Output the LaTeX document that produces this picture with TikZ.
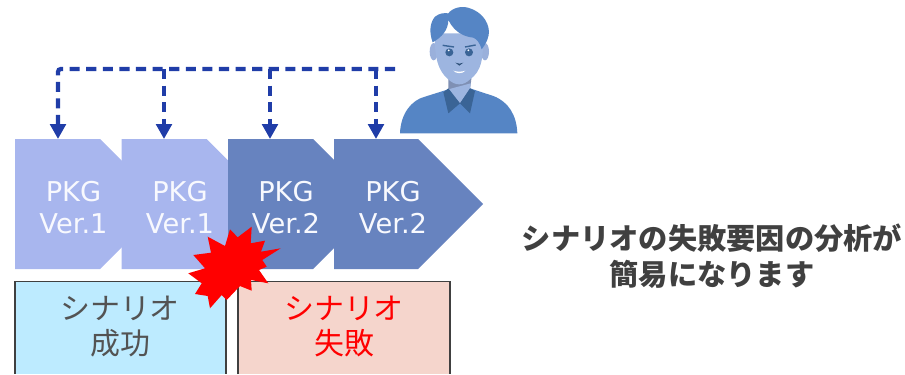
\documentclass[tikz,border=0pt]{standalone}
\usepackage{fontspec}
\setmainfont{DejaVu Sans}
\newfontfamily\jpfont{Noto Sans CJK JP}
\usetikzlibrary{arrows.meta,calc,positioning}
\definecolor{pkglight}{HTML}{A8B6EE}
\definecolor{pkgdark}{HTML}{6783BF}
\definecolor{dropblue}{HTML}{203DA8}
\definecolor{okfill}{HTML}{BDEBFF}
\definecolor{ngfill}{HTML}{F5D5CC}
\definecolor{boxline}{HTML}{404040}
\definecolor{manblue}{HTML}{5585C5}
\definecolor{manface}{HTML}{9DB5E0}
\definecolor{mancollar}{HTML}{3A6496}
\definecolor{manneck}{HTML}{7F90B4}
\begin{document}
\begin{tikzpicture} [x=0.025cm,y=-0.025cm,{pkgtext/.style={text=white!92!pkglight,align=center,inner sep=0pt,font=\fontsize{19.4}{22.7}\selectfont}},{droptip/.style={-{Triangle[length=10.6pt,width=11pt]},color=dropblue,line width=3pt,dash pattern=on 7.2pt off 4.6pt}},{resultbox/.style={draw=boxline,line width=1.3pt}},{resulttext/.style={align=center,inner sep=0pt,font=\jpfont\fontsize{21.3}{24.6}\selectfont}}]
	\useasboundingbox (0,0) rectangle (905,374);
	%%result boxes
	\draw [resultbox,fill=okfill] (15,374) -- (15,281.5) -- (226,281.5) -- (226,374);
	\draw [resultbox,fill=ngfill] (238,374) -- (238,281.5) -- (450,281.5) -- (450,374);
	\node [resulttext,text=boxline!90!white] (okText) at (120,326.5) {シナリオ\\成功};
	\node [resulttext,text=red] (ngText) at (344,326.5) {シナリオ\\失敗};
	%%packages
	\fill [pkglight] (15,139) -- (100,139) -- (165,204) -- (100,269) -- (15,269) -- cycle;
	\fill [pkglight] (121.5,139) -- (206.5,139) -- (271.5,204) -- (206.5,269) -- (121.5,269) -- cycle;
	\fill [pkgdark] (228,139) -- (313,139) -- (378,204) -- (313,269) -- (228,269) -- cycle;
	\fill [pkgdark] (334,139) -- (418,139) -- (483,204) -- (418,269) -- (334,269) -- cycle;
	\node [pkgtext] (pkgA) at (73.5,208) {PKG\\Ver.1};
	\node [pkgtext] (pkgB) at (180,208) {PKG\\Ver.1};
	\node [pkgtext] (pkgC) at (286,208) {PKG\\Ver.2};
	\node [pkgtext] (pkgD) at (393,208) {PKG\\Ver.2};
	%%dashed lines
	\coordinate (start) at (395,69);
	\coordinate (dropA) at (58,69);
	\coordinate (dropB) at (164,69);
	\coordinate (dropC) at (270,69);
	\coordinate (dropD) at (376,69);
	\coordinate (endA) at (58,139);
	\coordinate (endB) at (164,139);
	\coordinate (endC) at (270,139);
	\coordinate (endD) at (376,139);
	\draw [droptip,rounded corners=2pt] (start) -- (dropA) -- (endA);
	\draw [droptip] (dropB) -- (endB);
	\draw [droptip] (dropC) -- (endC);
	\draw [droptip] (dropD) -- (endD);
	%%burst
	\fill [red] (251.7,226.7) -- (250.7,243.3) -- (265,240.7) -- (261,251.7) -- (280.7,248.3) -- (262.3,260) -- (266.7,266.7) -- (259,270) -- (268.3,283.3) -- (251,280) -- (251.7,290.7) -- (240,286) -- (226.7,300) -- (221.7,295) -- (210,308.3) -- (207.7,296) -- (195,294) -- (201.7,283.3) -- (188.3,273.3) -- (205,268.3) -- (193.3,255) -- (211,252.7) -- (207.7,236.7) -- (225,246) -- (230,229.3) -- (237.7,237.3) -- cycle;
	%%man
	\begin{scope}[shift={(380,0)},x=0.00833cm,y=-0.00833cm]
	\fill [manblue] (60,400) .. controls (62,340) and (95,300) .. (135,290) -- (205,268) -- (270,265) -- (340,288) .. controls (385,305) and (410,345) .. (412,400) -- cycle;
	\fill [manneck] (205,230) -- (275,230) -- (270,268) -- (240,310) -- (205,268) -- cycle;
	\fill [manface] (205,268) -- (272,250) -- (270,268) -- (240,310) -- cycle;
	\fill [mancollar] (190,277) -- (205,265) -- (240,310) -- (205,340) -- cycle;
	\fill [mancollar] (285,273) -- (270,265) -- (240,310) -- (270,340) -- cycle;
	\fill [manface!88!manneck] (161,155) ellipse [x radius=12,y radius=26];
	\fill [manface!88!manneck] (315,155) ellipse [x radius=12,y radius=26];
	\fill [manface] (165,100) -- (308,100) .. controls (312,170) and (305,215) .. (270,238) .. controls (250,258) and (225,258) .. (205,238) .. controls (175,215) and (162,170) .. (165,100) -- cycle;
	\fill [manblue] (158,127) .. controls (148,100) and (148,70) .. (165,50) .. controls (178,40) and (192,38) .. (205,40) .. controls (215,25) and (245,15) .. (270,25) .. controls (300,35) and (325,60) .. (327,95) .. controls (327,112) and (318,132) .. (305,148) .. controls (298,125) and (290,118) .. (280,113) .. controls (255,110) and (225,100) .. (205,60) .. controls (205,90) and (185,112) .. (158,127) -- cycle;
	\fill [mancollar] (208,157) circle [radius=12];
	\fill [mancollar] (267,157) circle [radius=12];
	\fill [white] (206,151) circle [radius=3];
	\fill [white] (265,151) circle [radius=3];
	\draw [mancollar,line width=1pt] (188,136) -- (222,141);
	\draw [mancollar,line width=1pt] (287,135) -- (255,141);
	\fill [mancollar!80!black] (226,188) .. controls (235,192) and (242,192) .. (250,188) -- (238,197) -- cycle;
	\fill [white] (220,212) .. controls (232,216) and (244,216) .. (256,212) .. controls (248,222) and (228,222) .. (220,212) -- cycle;
	\end{scope}
	%%message
	\node [align=center,inner sep=0pt,text=boxline,font=\jpfont\bfseries\fontsize{20.8}{25.6}\selectfont] (msg) at (712,256) {シナリオの失敗要因の分析が\\簡易になります};
\end{tikzpicture}
\end{document}
